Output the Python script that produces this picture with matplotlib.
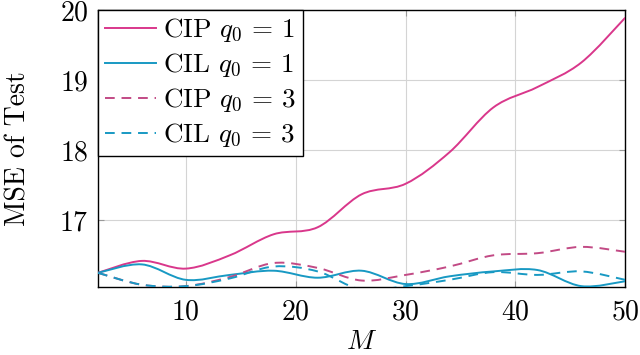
import numpy as np
import matplotlib
matplotlib.use('Agg')
import matplotlib.pyplot as plt
from matplotlib.path import Path
from matplotlib.patches import PathPatch
from matplotlib.lines import Line2D

# ---------- Data ----------

M = [2, 6, 10, 14, 18, 22, 26, 30, 34, 38, 42, 46, 50]
cip_q1 = [16.25, 16.42, 16.31, 16.50, 16.80, 16.90, 17.37, 17.52, 17.97, 18.61, 18.90, 19.25, 19.89]
cil_q1 = [16.25, 16.37, 16.15, 16.22, 16.28, 16.18, 16.28, 16.09, 16.20, 16.27, 16.29, 16.06, 16.13]
cip_q3 = [16.25, 16.08, 16.06, 16.19, 16.39, 16.32, 16.14, 16.22, 16.34, 16.50, 16.53, 16.62, 16.55]
cil_q3 = [16.25, 16.08, 16.06, 16.17, 16.34, 16.27, 16.01, 16.06, 16.15, 16.26, 16.22, 16.27, 16.15]
labels = [r'CIP $q_0\,=\,1$', r'CIL $q_0\,=\,1$', r'CIP $q_0\,=\,3$', r'CIL $q_0\,=\,3$']

# ---------- Style ----------

plt.rcParams['font.family'] = 'serif'
plt.rcParams['font.serif'] = ['cmr10']
plt.rcParams['mathtext.fontset'] = 'cm'
plt.rcParams['axes.formatter.use_mathtext'] = True
fs = 20

pink = '#d9378b'
pink2 = '#c24a85'
blue = '#1899c3'
dash = (0, (5, 3.5))

def smoothPath(x, y, k=1/6.): # cubic bezier through points, like pgfplots "smooth"
    P = np.column_stack([x, y]).astype(float)
    n = len(P)
    verts = [P[0]]
    codes = [Path.MOVETO]
    for i in range(n-1):
        p0 = P[max(i-1, 0)]
        p3 = P[min(i+2, n-1)]
        c1 = P[i] + (P[i+1] - p0)*k
        c2 = P[i+1] - (p3 - P[i])*k
        verts += [c1, c2, P[i+1]]
        codes += [Path.CURVE4]*3
    return Path(verts, codes)

fig = plt.figure(figsize=(6.4, 3.55), dpi=100)
ax = fig.add_axes([0.153, 0.192, 0.824, 0.780])

series = [(cip_q1, pink, '-'), (cil_q1, blue, '-'), (cip_q3, pink2, dash), (cil_q3, blue, dash)]
handles = []
for (vals, col, ls), lab in zip(series, labels):
    ax.add_patch(PathPatch(smoothPath(M, vals), fill=False, edgecolor=col, lw=1.4, linestyle=ls, zorder=3))
    handles.append(Line2D([], [], color=col, lw=1.4, linestyle=ls))

ax.set_xlim(2, 50)
ax.set_ylim(16.05, 20)
ax.set_xticks([10, 20, 30, 40, 50])
ax.set_yticks([17, 18, 19, 20])
ax.grid(True, color='#d4d4d4', lw=0.8)
ax.set_axisbelow(True)
ax.tick_params(direction='in', length=4, color='#999999', labelsize=fs, top=True, right=True)
ax.tick_params(axis='x', pad=9)
ax.tick_params(axis='y', pad=7)
for s in ax.spines.values():
    s.set_linewidth(1.0)
ax.set_xlabel(r'$M$', fontsize=fs)
ax.set_ylabel('MSE of Test', fontsize=fs)
ax.xaxis.set_label_coords(0.5, -0.15)
ax.yaxis.set_label_coords(-0.125, 0.5)

leg = ax.legend(handles, labels, loc='upper left', fontsize=19.5, fancybox=False, framealpha=1,
                edgecolor='black', borderaxespad=0, handlelength=1.9, handletextpad=0.25,
                labelspacing=0.27, borderpad=0.25)
leg.get_frame().set_linewidth(1.0)

fig.savefig('out.png', dpi=100)
